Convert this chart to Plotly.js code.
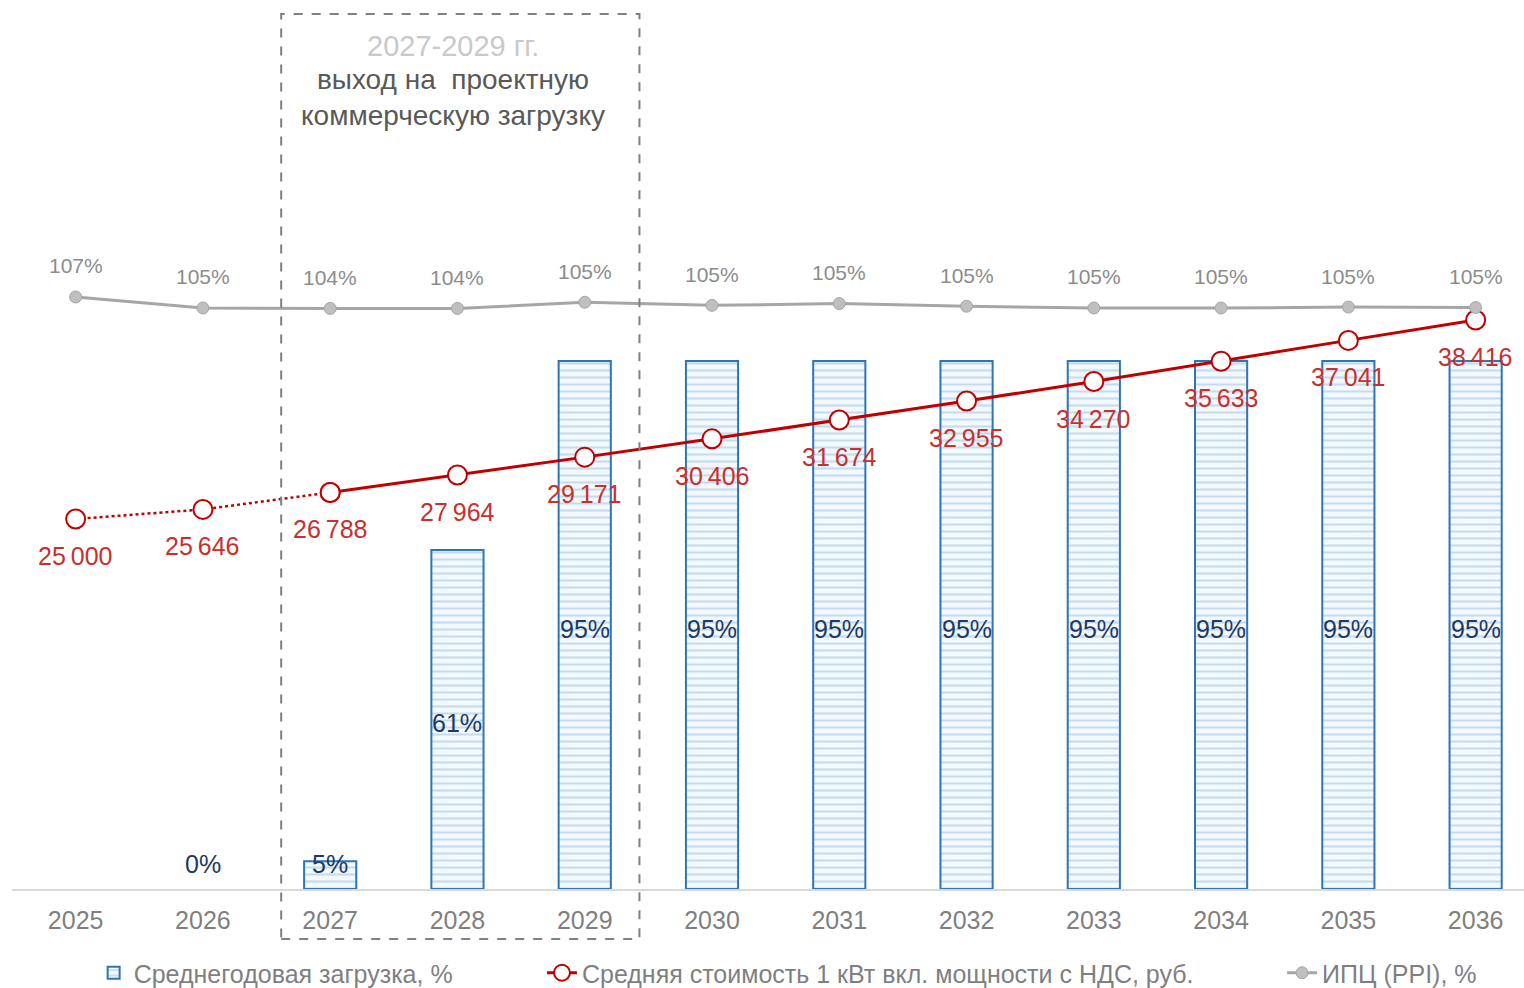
<!DOCTYPE html>
<html>
<head>
<meta charset="utf-8">
<script src="https://cdn.plot.ly/plotly-3.0.1.min.js"></script>
<style>html,body{margin:0;padding:0;background:#fff;}#chart{width:1524px;height:988px;}</style>
</head>
<body>
<div id="chart"></div>
<script>
// ---- data ----
const years = ['2025','2026','2027','2028','2029','2030','2031','2032','2033','2034','2035','2036'];
const loadPct = [null, 0, 5, 61, 95, 95, 95, 95, 95, 95, 95, 95];
const loadLabels = ['', '0%', '5%', '61%', '95%', '95%', '95%', '95%', '95%', '95%', '95%', '95%'];
const costYears = ['2027','2028','2029','2030','2031','2032','2033','2034','2035','2036'];
const costValues = [26788, 27964, 29171, 30406, 31674, 32955, 34270, 35633, 37041, 38416];
const costForecastYears = ['2025','2026','2027'];
const costForecastValues = [25000, 25646, 26788];
const ppiValues = [107.0, 104.5, 104.4, 104.4, 105.8, 105.1, 105.5, 104.9, 104.5, 104.5, 104.7, 104.6];
const ppiLabels = ['107%','105%','104%','104%','105%','105%','105%','105%','105%','105%','105%','105%'];
const boxTitle = '2027-2029 гг.';
const boxText = 'выход на  проектную<br>коммерческую загрузку';
const legendNames = ['Среднегодовая загрузка, %', 'Средняя стоимость 1 кВт вкл. мощности с НДС, руб.', 'ИПЦ (PPI), %'];

const fmt = v => String(v).replace(/\B(?=(\d{3})+(?!\d))/g, '\u2009');
const FONT = 'Arial, "Liberation Sans", sans-serif';
const RED = '#C00000';
const RED_TXT = '#C8302E';

const traces = [
  {
    type: 'bar', x: years, y: loadPct, name: legendNames[0], legend: 'legend',
    width: 0.41,
    marker: {
      color: '#F4F9FE',
      line: {color: '#2E75B6', width: loadPct.map(v => (v === 0 ? 0 : 2))},
      pattern: {shape: '-', fgcolor: '#C5DCF0', bgcolor: '#F4F9FE', size: 7, solidity: 0.3}
    },
    hoverinfo: 'skip'
  },
  {
    type: 'scatter', mode: 'lines+markers', x: costForecastYears, y: costForecastValues, yaxis: 'y2',
    line: {color: RED, width: 2.5, dash: 'dot'},
    marker: {size: 19, color: '#FFFFFF', line: {color: RED, width: 2}},
    showlegend: false, hoverinfo: 'skip'
  },
  {
    type: 'scatter', mode: 'lines+markers', x: costYears, y: costValues, yaxis: 'y2',
    name: legendNames[1], legend: 'legend2',
    line: {color: RED, width: 3},
    marker: {size: 19, color: '#FFFFFF', line: {color: RED, width: 2}},
    hoverinfo: 'skip'
  },
  {
    type: 'scatter', mode: 'lines+markers', x: years, y: ppiValues, yaxis: 'y3',
    name: legendNames[2], legend: 'legend3',
    line: {color: '#A6A6A6', width: 3},
    marker: {size: 12, color: '#BFBFBF', line: {color: '#A6A6A6', width: 1}},
    hoverinfo: 'skip'
  }
];

const annotations = [];
loadPct.forEach((v, i) => {
  if (v === null) return;
  annotations.push({
    x: i, y: Math.max(v / 2, 5.2), xref: 'x', yref: 'y', yshift: -4, showarrow: false,
    text: loadLabels[i], font: {family: FONT, size: 25, color: '#203864'}
  });
});
costForecastYears.slice(0, 2).forEach((yr, i) => annotations.push({
  x: years.indexOf(yr), y: costForecastValues[i], xref: 'x', yref: 'y2', yshift: -37, showarrow: false,
  text: fmt(costForecastValues[i]), font: {family: FONT, size: 25, color: RED_TXT}
}));
costYears.forEach((yr, i) => annotations.push({
  x: years.indexOf(yr), y: costValues[i], xref: 'x', yref: 'y2', yshift: -37, showarrow: false,
  text: fmt(costValues[i]), font: {family: FONT, size: 25, color: RED_TXT}
}));
years.forEach((yr, i) => annotations.push({
  x: i, y: ppiValues[i], xref: 'x', yref: 'y3', yshift: 31, showarrow: false,
  text: ppiLabels[i], font: {family: FONT, size: 21, color: '#8C8C8C'}
}));
annotations.push(
  {xref: 'paper', yref: 'paper', x: 0.2917, y: (889 - 46) / 879, xanchor: 'center', yanchor: 'middle',
   text: boxTitle, showarrow: false, font: {family: FONT, size: 29, color: '#C9C9C9'}},
  {xref: 'paper', yref: 'paper', x: 0.2917, y: (889 - 97) / 879, xanchor: 'center', yanchor: 'middle',
   text: boxText, showarrow: false, font: {family: FONT, size: 28, color: '#595959'}}
);

const legendCommon = {
  orientation: 'h', yref: 'container', yanchor: 'middle', y: 1 - 973 / 988, xanchor: 'left',
  font: {family: FONT, size: 25, color: '#7F7F7F'}, bgcolor: 'rgba(0,0,0,0)'
};

const layout = {
  width: 1524, height: 988,
  margin: {l: 12, r: 0, t: 10, b: 99},
  paper_bgcolor: '#FFFFFF', plot_bgcolor: '#FFFFFF',
  font: {family: FONT},
  showlegend: true,
  legend: Object.assign({}, legendCommon, {x: 0.054}),
  legend2: Object.assign({}, legendCommon, {x: 0.3505}),
  legend3: Object.assign({}, legendCommon, {x: 0.840}),
  xaxis: {
    type: 'category', range: [-0.5, 11.38],
    showline: true, linecolor: '#D9D9D9', linewidth: 2,
    ticks: '', showgrid: false, zeroline: false,
    tickfont: {family: FONT, size: 25, color: '#7F7F7F'},
    ticklabelstandoff: 8
  },
  yaxis: {range: [0, 158.15], visible: false, showgrid: false, zeroline: false},
  yaxis2: {range: [56, 59315], overlaying: 'y', visible: false, showgrid: false, zeroline: false},
  yaxis3: {range: [-27.5, 172.2], overlaying: 'y', visible: false, showgrid: false, zeroline: false},
  shapes: [{
    type: 'rect', xref: 'x', yref: 'paper',
    x0: 1.615, x1: 4.43, y0: -0.0569, y1: 0.9954,
    line: {color: '#808080', width: 2, dash: 'dash'},
    fillcolor: 'rgba(0,0,0,0)', layer: 'above'
  }],
  annotations: annotations,
  bargap: 0.5
};

Plotly.newPlot('chart', traces, layout, {displayModeBar: false, staticPlot: true});
</script>
</body>
</html>
